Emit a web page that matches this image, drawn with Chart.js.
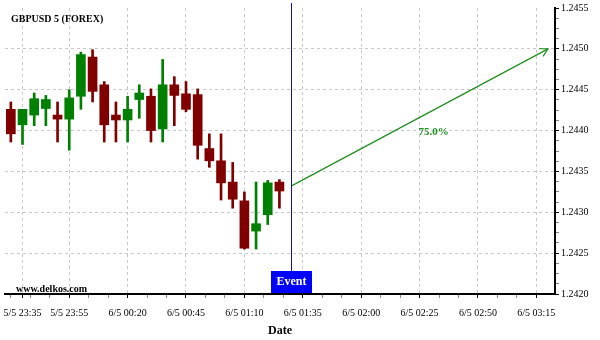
<!DOCTYPE html>
<html>
<head>
<meta charset="utf-8">
<script src="https://cdn.jsdelivr.net/npm/chart.js@4"></script>
<style>
  html, body { margin: 0; padding: 0; background: #fff; }
  #wrap { width: 600px; height: 340px; }
</style>
</head>
<body>
<div id="wrap"><canvas id="chart" width="600" height="340"></canvas></div>
<script>
// 5-minute candles, GBPUSD
const candleTimes = ['23:30', '23:35', '23:40', '23:45', '23:50', '23:55', '00:00', '00:05',
                     '00:10', '00:15', '00:20', '00:25', '00:30', '00:35', '00:40', '00:45',
                     '00:50', '00:55', '01:00', '01:05', '01:10', '01:15', '01:20', '01:25'];
const opens  = [1.24426, 1.24407, 1.24419, 1.24427, 1.24419, 1.24414, 1.24442, 1.24490,
                1.24456, 1.24419, 1.24413, 1.24438, 1.24442, 1.24402, 1.24456, 1.24445,
                1.24444, 1.24378, 1.24363, 1.24337, 1.24314, 1.24277, 1.24297, 1.24337];
const highs  = [1.24435, 1.24426, 1.24446, 1.24443, 1.24435, 1.24450, 1.24496, 1.24499,
                1.24460, 1.24435, 1.24442, 1.24456, 1.24451, 1.24487, 1.24466, 1.24460,
                1.24451, 1.24396, 1.24396, 1.24361, 1.24325, 1.24337, 1.24339, 1.24340];
const lows   = [1.24386, 1.24383, 1.24406, 1.24406, 1.24386, 1.24376, 1.24426, 1.24435,
                1.24386, 1.24386, 1.24386, 1.24415, 1.24386, 1.24386, 1.24406, 1.24423,
                1.24365, 1.24355, 1.24315, 1.24305, 1.24255, 1.24255, 1.24285, 1.24305];
const closes = [1.24396, 1.24426, 1.24439, 1.24438, 1.24414, 1.24440, 1.24493, 1.24448,
                1.24407, 1.24413, 1.24426, 1.24446, 1.24400, 1.24456, 1.24443, 1.24426,
                1.24382, 1.24363, 1.24336, 1.24316, 1.24256, 1.24286, 1.24336, 1.24326];

// axis ticks
const xTickTimes  = ['23:35', '23:55', '00:20', '00:45', '01:10', '01:35', '02:00', '02:25', '02:50', '03:15'];
const xTickLabels = ['5/5 23:35', '5/5 23:55', '6/5 00:20', '6/5 00:45', '6/5 01:10',
                     '6/5 01:35', '6/5 02:00', '6/5 02:25', '6/5 02:50', '6/5 03:15'];
const yMin = 1.2420, yMax = 1.2455, yStep = 0.0005;

// event + forecast arrow
const eventTime = '01:30';
const arrowFrom = ['01:30', 1.24332];
const arrowTo   = ['03:20', 1.24500];
const arrowText = '75.0%';
const arrowTextAt = ['02:31', 1.24398];

const UP = '#008000', DOWN = '#800000', ARROW = '#1f8f1f', GRID = '#c8c8c8';
const SERIF = '"Liberation Serif", "Times New Roman", serif';

// minutes since 23:30 (times after midnight belong to the next day)
function toMin(s) {
    let [h, m] = s.split(':').map(Number);
    if (h < 12) h += 24;
    return h * 60 + m - (23 * 60 + 30);
}

const xMajor = xTickTimes.map(toMin);
const isMajorX = v => xMajor.some(m => Math.abs(m - v) < 0.01);

const colors = opens.map((o, i) => closes[i] >= o ? UP : DOWN);
const bodies = candleTimes.map((t, i) => ({ x: toMin(t), y: [Math.min(opens[i], closes[i]), Math.max(opens[i], closes[i])] }));
const wicks  = candleTimes.map((t, i) => ({ x: toMin(t), y: [lows[i], highs[i]] }));

const overlay = {
    id: 'overlay',
    afterDatasetsDraw(chart) {
        const { ctx, chartArea, scales: { x, y } } = chart;
        ctx.save();

        // arrow head
        const x1 = x.getPixelForValue(toMin(arrowFrom[0])), y1 = y.getPixelForValue(arrowFrom[1]);
        const x2 = x.getPixelForValue(toMin(arrowTo[0])),   y2 = y.getPixelForValue(arrowTo[1]);
        const ang = Math.atan2(y2 - y1, x2 - x1);
        ctx.strokeStyle = ARROW;
        ctx.lineWidth = 1.2;
        ctx.beginPath();
        ctx.moveTo(x2 - 9 * Math.cos(ang - 0.5), y2 - 9 * Math.sin(ang - 0.5));
        ctx.lineTo(x2, y2);
        ctx.lineTo(x2 - 9 * Math.cos(ang + 0.5), y2 - 9 * Math.sin(ang + 0.5));
        ctx.stroke();

        ctx.fillStyle = ARROW;
        ctx.font = 'bold 11px ' + SERIF;
        ctx.textAlign = 'center';
        ctx.textBaseline = 'middle';
        ctx.fillText(arrowText, x.getPixelForValue(toMin(arrowTextAt[0])), y.getPixelForValue(arrowTextAt[1]));

        // event marker
        const ex = Math.round(x.getPixelForValue(toMin(eventTime))) + 0.5;
        const boxH = 22, boxW = 41;
        ctx.strokeStyle = '#10109a';
        ctx.lineWidth = 1;
        ctx.beginPath();
        ctx.moveTo(ex, 3);
        ctx.lineTo(ex, chartArea.bottom - boxH);
        ctx.stroke();
        ctx.fillStyle = '#0000ff';
        ctx.fillRect(ex - boxW / 2, chartArea.bottom - boxH - 1, boxW, boxH);
        ctx.fillStyle = '#fff';
        ctx.font = 'bold 12px ' + SERIF;
        ctx.fillText('Event', ex, chartArea.bottom - boxH / 2 - 1);

        // title + watermark
        ctx.fillStyle = '#000';
        ctx.textAlign = 'left';
        ctx.font = 'bold 10px ' + SERIF;
        ctx.fillText('GBPUSD 5 (FOREX)', 11, 19);
        ctx.fillText('www.delkos.com', 16, 289);
        ctx.restore();
    }
};

new Chart(document.getElementById('chart'), {
    type: 'bar',
    data: {
        datasets: [
            { data: bodies, backgroundColor: colors, barThickness: 9, grouped: false, borderWidth: 0 },
            { data: wicks, backgroundColor: colors, barThickness: 2, grouped: false, borderWidth: 0 },
            {
                type: 'line',
                data: [{ x: toMin(arrowFrom[0]), y: arrowFrom[1] }, { x: toMin(arrowTo[0]), y: arrowTo[1] }],
                borderColor: ARROW, borderWidth: 1.2, pointRadius: 0, fill: false
            }
        ]
    },
    options: {
        responsive: false,
        animation: false,
        layout: { padding: { left: 5, top: 5, right: 0, bottom: 0 } },
        plugins: { legend: { display: false }, tooltip: { enabled: false } },
        font: { family: SERIF },
        scales: {
            x: {
                type: 'linear',
                min: -2.5,
                max: 233,
                offset: false,
                afterFit: s => { s.height = 46; },
                afterBuildTicks: s => {
                    const vals = [5];
                    for (let k = 0; k * 25 / 3 <= 225.01; k++) vals.push(k * 25 / 3);
                    vals.sort((a, b) => a - b);
                    s.ticks = vals.map(v => ({ value: v }));
                },
                ticks: {
                    autoSkip: false, maxRotation: 0, minRotation: 0, padding: 9,
                    color: '#000', font: { family: SERIF, size: 10 },
                    callback: v => {
                        const i = xMajor.findIndex(m => Math.abs(m - v) < 0.01);
                        return i >= 0 ? xTickLabels[i] : '';
                    }
                },
                grid: {
                    offset: false,
                    tickLength: 4,
                    lineWidth: 1,
                    color: c => (c.tick && isMajorX(c.tick.value)) ? GRID : 'rgba(0,0,0,0)',
                    tickColor: c => (c.tick && isMajorX(c.tick.value)) ? '#000' : '#888',
                    tickBorderDash: []
                },
                border: { display: true, color: '#000', width: 2, dash: [3, 3] },
                title: { display: true, text: 'Date', color: '#000', font: { family: SERIF, size: 12, weight: 'bold' }, padding: { top: 0, bottom: 2 } }
            },
            y: {
                type: 'linear',
                position: 'right',
                min: yMin,
                max: yMax,
                afterFit: s => { s.width = 45; },
                afterBuildTicks: s => {
                    const n = Math.round((yMax - yMin) / (yStep / 4));
                    const out = [];
                    for (let i = 0; i <= n; i++) out.push({ value: +(yMin + i * yStep / 4).toFixed(6) });
                    s.ticks = out;
                },
                ticks: {
                    autoSkip: false, padding: 2,
                    color: '#000', font: { family: SERIF, size: 10 },
                    callback: (v, i) => i % 4 === 0 ? v.toFixed(4) : ''
                },
                grid: {
                    tickLength: 4,
                    lineWidth: 1,
                    color: c => (c.index % 4 === 0 && c.index > 0 && c.index < 28) ? GRID : 'rgba(0,0,0,0)',
                    tickColor: c => c.index % 4 === 0 ? '#000' : '#888',
                    tickBorderDash: []
                },
                border: { display: true, color: '#000', width: 2, dash: [3, 3] }
            }
        }
    },
    plugins: [overlay]
});
</script>
</body>
</html>
